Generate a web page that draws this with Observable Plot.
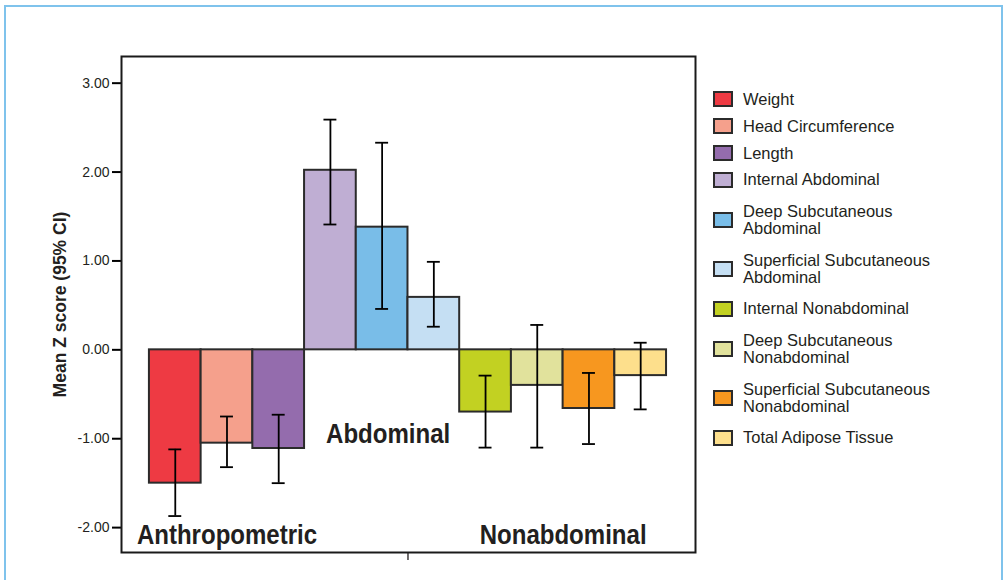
<!DOCTYPE html>
<html>
<head>
<meta charset="utf-8">
<script src="https://cdn.jsdelivr.net/npm/d3@7"></script>
<script src="https://cdn.jsdelivr.net/npm/@observablehq/plot@0.6"></script>
<style>
  html, body { margin: 0; padding: 0; background: #fff; overflow: hidden; }
  #wrap { position: relative; width: 1004px; height: 580px; }
  #border { position: absolute; left: 4px; top: 5px; width: 999px; height: 620px; box-sizing: border-box; border: 2.5px solid #7fc3ec; pointer-events: none; }
  #legend { position: absolute; left: 713px; top: 91px; font-family: "Liberation Sans", Arial, sans-serif; font-size: 16.5px; line-height: 16.8px; color: #231f20; }
  .item { display: flex; align-items: center; }
  .sw { width: 20px; height: 16px; box-sizing: border-box; border: 2px solid #2b2b2b; flex: none; }
  .lab { margin-left: 10px; width: 200px; }
</style>
</head>
<body>
<div id="wrap">
  <div id="chart"></div>
  <div id="legend"></div>
  <div id="border"></div>
</div>
<script>
const categories = [
  "Weight", "Head Circumference", "Length", "Internal Abdominal",
  "Deep Subcutaneous Abdominal", "Superficial Subcutaneous Abdominal",
  "Internal Nonabdominal", "Deep Subcutaneous Nonabdominal",
  "Superficial Subcutaneous Nonabdominal", "Total Adipose Tissue"
];
const groups = [
  "Anthropometric", "Anthropometric", "Anthropometric",
  "Abdominal", "Abdominal", "Abdominal",
  "Nonabdominal", "Nonabdominal", "Nonabdominal", "Nonabdominal"
];
const means  = [-1.50, -1.05, -1.11, 2.02, 1.38, 0.59, -0.70, -0.40, -0.66, -0.29];
const ciLow  = [-1.87, -1.32, -1.50, 1.41, 0.46, 0.26, -1.10, -1.10, -1.06, -0.67];
const ciHigh = [-1.12, -0.75, -0.73, 2.59, 2.33, 0.99, -0.29, 0.28, -0.26, 0.08];
const colors = ["#ee3a43", "#f5a08c", "#946cad", "#bfaed3", "#79bde8",
                "#c5dff3", "#c2d122", "#e1e29c", "#f7971f", "#fddf8c"];
const yTicks = [-2, -1, 0, 1, 2, 3];
const yLabel = "Mean Z score (95% CI)";

const data = categories.map((c, i) => ({
  i, category: c, group: groups[i], mean: means[i], lo: ciLow[i], hi: ciHigh[i]
}));
const groupNames = Array.from(new Set(groups));
const groupLabels = groupNames.map(g => ({
  group: g,
  x: d3.mean(data.filter(d => d.group === g), d => d.i + 0.5)
}));
const cap = 0.125;
const groupTextStyle = {
  text: "group", lineAnchor: "bottom", textAnchor: "middle",
  fontFamily: "'Liberation Sans', Arial, sans-serif",
  fontWeight: "bold", fontSize: 27, fill: "#231f20"
};

const chart = Plot.plot({
  width: 1004,
  height: 580,
  marginLeft: 121,
  marginRight: 309,
  marginTop: 56,
  marginBottom: 28,
  style: { fontFamily: "'Liberation Sans', Arial, sans-serif", fontSize: "14px", color: "#231f20", background: "#fff" },
  x: { domain: [-0.54, categories.length + 0.56] },
  y: { domain: [-2.28, 3.30] },
  color: { domain: categories, range: colors },
  marks: [
    Plot.rect(data, { x1: "i", x2: d => d.i + 1, y1: 0, y2: "mean", fill: "category", stroke: "#2b2b2b", strokeWidth: 2 }),
    Plot.ruleX(data, { x: d => d.i + 0.5, y1: "lo", y2: "hi", stroke: "#000", strokeWidth: 1.8 }),
    Plot.ruleY(data, { y: "lo", x1: d => d.i + 0.5 - cap, x2: d => d.i + 0.5 + cap, stroke: "#000", strokeWidth: 1.8 }),
    Plot.ruleY(data, { y: "hi", x1: d => d.i + 0.5 - cap, x2: d => d.i + 0.5 + cap, stroke: "#000", strokeWidth: 1.8 }),
    Plot.text(groupLabels.filter(d => d.group !== "Abdominal"), { x: "x", y: -2.18, ...groupTextStyle }),
    Plot.text(groupLabels.filter(d => d.group === "Abdominal"), { x: "x", y: -1.05, dx: 6, ...groupTextStyle }),
    Plot.axisY({ ticks: yTicks, tickFormat: d => d.toFixed(2), tickSize: 9, tickPadding: 3, fontSize: 14, fill: "#231f20", strokeWidth: 2, stroke: "#000", label: null }),
    Plot.axisX({ ticks: [categories.length / 2], tickFormat: () => "", tickSize: 8, strokeWidth: 1.3, label: null }),
    Plot.text([yLabel], { frameAnchor: "left", dx: -61, rotate: -90, textAnchor: "middle", fontWeight: "bold", fontSize: 17.5, fill: "#231f20" }),
    Plot.frame({ stroke: "#1a1a1a", strokeWidth: 2 })
  ]
});
document.getElementById("chart").appendChild(chart);

// emulate the condensed bold face of the group annotations
chart.querySelectorAll("text").forEach(t => {
  if (groupNames.includes(t.textContent)) {
    const w = t.getComputedTextLength();
    t.setAttribute("textLength", (w * 0.89).toFixed(1));
    t.setAttribute("lengthAdjust", "spacingAndGlyphs");
  }
});

// Legend
const legend = document.getElementById("legend");
const isDouble = name => name.split(" ").length >= 3 || name.length > 22;
categories.forEach((c, i) => {
  const item = document.createElement("div");
  item.className = "item";
  if (i > 0) {
    const both = !isDouble(c) && !isDouble(categories[i - 1]);
    item.style.marginTop = both ? "10px" : "15px";
  }
  const sw = document.createElement("div");
  sw.className = "sw";
  sw.style.background = colors[i];
  const lab = document.createElement("div");
  lab.className = "lab";
  lab.textContent = c;
  item.appendChild(sw);
  item.appendChild(lab);
  legend.appendChild(item);
});
</script>
</body>
</html>
